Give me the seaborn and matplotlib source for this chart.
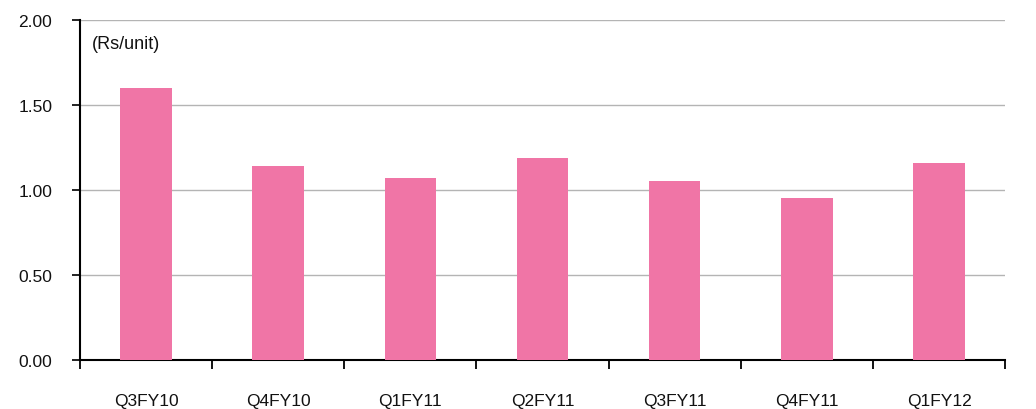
import matplotlib
matplotlib.use("Agg")
import matplotlib.pyplot as plt
import seaborn as sns
import pandas as pd
import numpy as np

quarters = ["Q3FY10", "Q4FY10", "Q1FY11", "Q2FY11", "Q3FY11", "Q4FY11", "Q1FY12"]
values = [1.60, 1.14, 1.07, 1.19, 1.05, 0.95, 1.16]
y_ticks = [0.0, 0.5, 1.0, 1.5, 2.0]
unit_label = "(Rs/unit)"

sns.set_style("white")
plt.rcParams["font.family"] = ["Liberation Sans", "DejaVu Sans"]

df = pd.DataFrame({"quarter": quarters, "value": values})

fig = plt.figure(figsize=(10.36, 4.10), dpi=100)
ax = fig.add_axes([0.0772, 0.1195, 0.8930, 0.8293])

sns.barplot(data=df, x="quarter", y="value", color="#F075A6", saturation=1,
            width=0.39, linewidth=0, edgecolor="none", ax=ax, zorder=3)

ax.set_ylim(0, 2.0)
ax.set_xlim(-0.5, len(quarters) - 0.5)
ax.set_yticks(y_ticks)
ax.set_yticklabels([f"{v:.2f}" for v in y_ticks])
ax.yaxis.grid(True, color="#B4B4B4", linewidth=1.0, zorder=0)
ax.xaxis.grid(False)

# category boundaries carry the x ticks; labels sit at bar centres
ax.set_xticks(np.arange(len(quarters)))
ax.set_xticklabels(quarters)
ax.set_xticks(np.arange(-0.5, len(quarters)), minor=True)
ax.tick_params(axis="x", which="major", length=0, pad=24, labelsize=12.5, colors="#111111")
ax.tick_params(axis="x", which="minor", length=6.5, width=1.3, direction="out", color="black")
ax.tick_params(axis="y", which="major", length=6, width=1.3, direction="out", pad=14,
               labelsize=12.5, colors="#111111")
ax.tick_params(axis="both", bottom=True, left=True)
ax.xaxis.set_tick_params(which="minor", bottom=True)

ax.set_xlabel("")
ax.set_ylabel("")

for side in ["top", "right"]:
    ax.spines[side].set_visible(False)
for side in ["left", "bottom"]:
    ax.spines[side].set_color("black")
    ax.spines[side].set_linewidth(1.5)

ax.text(-0.41, 1.86, unit_label, fontsize=13, va="center", ha="left", color="#111111")

fig.savefig("out.png", dpi=100)
